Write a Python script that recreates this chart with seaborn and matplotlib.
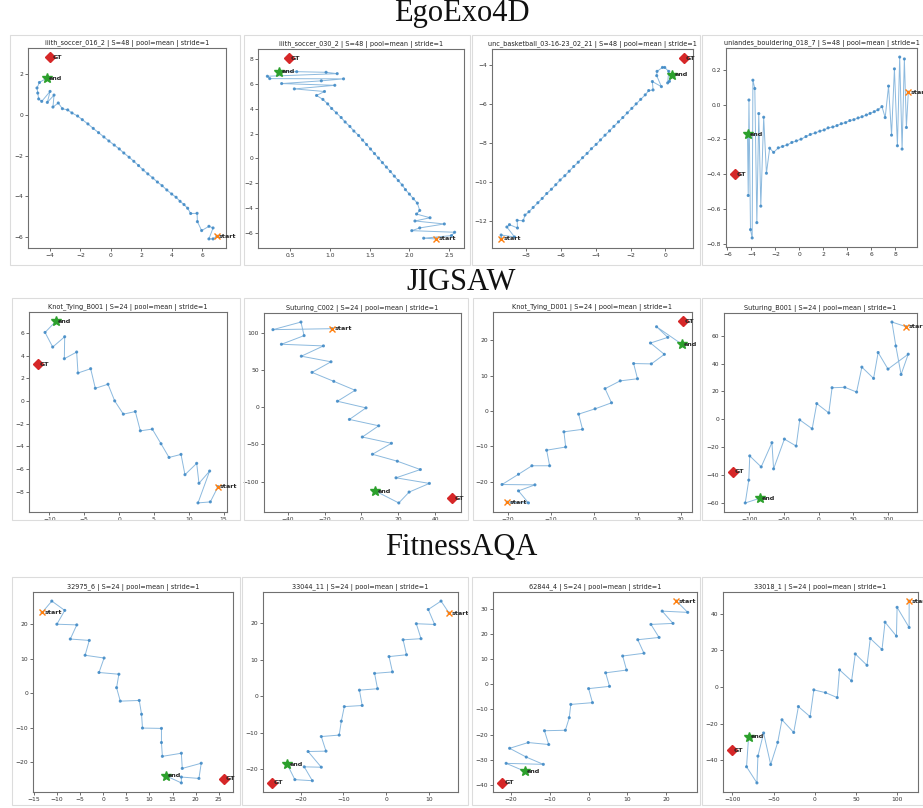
import numpy as np
import matplotlib.pyplot as plt
import seaborn as sns
from matplotlib.patches import Rectangle

sns.set_style("white")
plt.rcParams["font.family"] = ["DejaVu Sans"]

# ---- data -------------------------------------------------------------
sections = ["EgoExo4D", "JIGSAW", "FitnessAQA"]

titles = [
    "iiith_soccer_016_2 | S=48 | pool=mean | stride=1",
    "iiith_soccer_030_2 | S=48 | pool=mean | stride=1",
    "unc_basketball_03-16-23_02_21 | S=48 | pool=mean | stride=1",
    "uniandes_bouldering_018_7 | S=48 | pool=mean | stride=1",
    "Knot_Tying_B001 | S=24 | pool=mean | stride=1",
    "Suturing_C002 | S=24 | pool=mean | stride=1",
    "Knot_Tying_D001 | S=24 | pool=mean | stride=1",
    "Suturing_B001 | S=24 | pool=mean | stride=1",
    "32975_6 | S=24 | pool=mean | stride=1",
    "33044_11 | S=24 | pool=mean | stride=1",
    "62844_4 | S=24 | pool=mean | stride=1",
    "33018_1 | S=24 | pool=mean | stride=1",
]

ego1_x = [6.98, 6.72, 6.45, 6.72, 6.45, 5.97, 5.69, 5.67, 5.25, 5.05,
          4.81, 4.55, 4.29, 4.00, 3.68, 3.37, 3.06, 2.76, 2.43, 2.12,
          1.82, 1.51, 1.20, 0.85, 0.55, 0.22, -0.13, -0.46, -0.81, -1.16,
          -1.51, -1.88, -2.19, -2.56, -2.84, -3.19,
          -3.46, -3.81, -3.74, -4.18, -4.00, -4.55, -4.75, -4.81, -4.86, -4.70, -4.22]
ego1_y = [-5.97, -6.10, -6.10, -5.56, -5.48, -5.69, -5.25, -4.84, -4.85, -4.59,
          -4.41, -4.25, -4.05, -3.89, -3.69, -3.48, -3.30, -3.10, -2.90, -2.70,
          -2.49, -2.28, -2.08, -1.87, -1.67, -1.48, -1.28, -1.08, -0.87, -0.66,
          -0.44, -0.23, -0.05, 0.10, 0.25, 0.31,
          0.59, 0.39, 0.98, 0.62, 1.16, 0.67, 0.79, 1.08, 1.33, 1.60, 1.82]
ego1_gt = (-4.00, 2.85)

ego2_x = [2.34, 2.18, 2.53, 2.57, 2.03, 2.13, 2.44, 2.07, 2.26, 2.09, 2.13,
          2.10, 2.05, 2.00, 1.95, 1.91, 1.86, 1.81, 1.76, 1.71, 1.66, 1.61, 1.56,
          1.51, 1.46, 1.41, 1.36, 1.30, 1.25, 1.19, 1.14, 1.08, 1.02, 0.97, 0.91,
          0.83, 0.93, 0.55, 1.06, 0.39, 0.89, 1.17, 0.24, 0.21, 1.09, 0.95, 0.58, 0.36]
ego2_y = [-6.50, -6.44, -6.23, -5.96, -5.83, -5.61, -5.29, -5.05, -4.79, -4.49, -4.20,
          -3.61, -3.25, -2.88, -2.52, -2.15, -1.79, -1.43, -1.06, -0.70, -0.34, 0.03, 0.39,
          0.76, 1.12, 1.48, 1.85, 2.21, 2.58, 2.94, 3.30, 3.67, 4.03, 4.40, 4.76,
          5.08, 5.40, 5.61, 5.90, 6.04, 6.26, 6.42, 6.44, 6.63, 6.84, 6.95, 7.00, 7.00]
ego2_gt = (0.48, 8.10)

ego3_x = [-9.44, -9.44, -8.67, -9.11, -8.96, -8.50, -8.52, -8.17, -8.07,
          -7.84, -7.60, -7.33, -7.08, -6.82, -6.55, -6.30, -6.05, -5.78, -5.53,
          -5.27, -5.01, -4.76, -4.50, -4.25, -3.98, -3.73, -3.47, -3.21, -2.96,
          -2.70, -2.45, -2.19, -1.93, -1.68, -1.42, -1.16,
          -0.96, -0.71, -0.75, -0.23, -0.50, -0.48, -0.17, -0.04, 0.19, 0.13, 0.23, 0.39]
ego3_y = [-12.90, -12.70, -12.80, -12.29, -12.17, -12.34, -11.95, -11.97, -11.68,
          -11.51, -11.29, -11.05, -10.83, -10.58, -10.36, -10.13, -9.89, -9.67, -9.44,
          -9.20, -8.98, -8.75, -8.53, -8.29, -8.07, -7.84, -7.60, -7.38, -7.15,
          -6.92, -6.70, -6.46, -6.23, -6.00, -5.77, -5.54,
          -5.32, -5.29, -4.86, -5.12, -4.56, -4.34, -4.14, -4.14, -4.34, -4.93, -4.85, -4.51]
ego3_gt = (1.06, -3.66)

ego4_x = [9.09, 8.93, 8.76, 8.57, 8.37, 8.18, 7.93, 7.69, 7.44, 7.16, 6.89,
          6.56, 6.25, 5.90, 5.59, 5.23, 4.90, 4.55, 4.21, 3.86, 3.50, 3.14, 2.79,
          2.40, 2.07, 1.71, 1.33, 0.91, 0.55, 0.14, -0.25, -0.63, -1.02, -1.40, -1.76,
          -2.15, -2.48,
          -2.75, -2.98, -3.22, -3.39, -3.55, -3.72, -3.88, -3.94, -4.08, -4.21, -4.27, -4.33]
ego4_y = [0.072, -0.131, 0.263, -0.255, 0.274, -0.236, 0.206, -0.175, 0.107, -0.074, -0.011,
          -0.029, -0.040, -0.050, -0.059, -0.069, -0.076, -0.086, -0.091, -0.103, -0.109,
          -0.120, -0.128, -0.133, -0.145, -0.152, -0.162, -0.171, -0.183, -0.198, -0.208,
          -0.217, -0.231, -0.240, -0.248,
          -0.274, -0.250,
          -0.394, -0.072, -0.583, -0.051, -0.678, 0.093, 0.141, -0.766, -0.718, 0.027, -0.522, -0.171]
ego4_gt = (-5.40, -0.40)

jig1_x = [14.21, 13.11, 11.34, 13.01, 11.48, 11.15, 9.47, 8.90, 7.18, 6.03, 4.78, 3.06, 2.34,
          0.62, -0.62, -1.58, -3.40, -4.07, -5.89, -6.08, -7.85, -7.80, -9.52, -10.62, -9.04]
jig1_y = [-7.57, -8.91, -9.00, -6.19, -7.27, -5.51, -6.51, -4.72, -4.99, -3.78, -2.49, -2.64, -0.94,
          -1.17, 0.00, 1.47, 1.11, 2.84, 2.46, 4.31, 3.72, 5.66, 4.75, 6.04, 7.04]
jig1_gt = (-11.63, 3.23)

jig2_x = [-15.9, -48.0, -32.8, -31.1, -43.4, -20.6, -32.6, -16.5, -26.8, -15.0, -3.4, -13.0, 2.5,
          -6.5, 9.4, 0.5, 16.3, 6.0, 19.5, 32.0, 18.8, 36.9, 25.9, 20.3, 7.6]
jig2_y = [105.3, 104.0, 114.2, 96.0, 84.4, 82.2, 68.4, 60.9, 46.7, 34.7, 22.7, 8.0, -0.9,
          -16.4, -24.9, -40.0, -48.4, -63.1, -72.4, -83.6, -94.7, -102.2, -113.8, -128.4, -112.4]
jig2_gt = (49.2, -122.0)

jig3_x = [-20.1, -15.2, -17.5, -13.7, -21.3, -17.5, -14.4, -10.3, -11.0, -6.6, -7.0, -2.7, -3.6,
          0.2, 4.0, 2.5, 6.0, 10.0, 9.1, 13.2, 16.2, 13.0, 17.0, 14.4, 20.2]
jig3_y = [-25.8, -26.0, -22.6, -20.9, -20.8, -17.9, -15.5, -15.5, -11.1, -10.2, -5.9, -5.2, -0.9,
          0.6, 2.3, 6.3, 8.5, 9.1, 13.4, 13.3, 16.0, 19.2, 20.8, 23.8, 18.9]
jig3_gt = (20.5, 25.4)

jig4_x = [126.4, 105.7, 111.3, 118.9, 129.2, 100.0, 85.8, 79.2, 62.3, 54.7, 37.7, 19.3, 14.6,
          -2.8, -9.4, -27.4, -32.5, -49.5, -65.1, -67.5, -83.0, -99.5, -100.9, -106.0, -85.4]
jig4_y = [66.4, 69.8, 52.6, 32.1, 46.7, 36.0, 47.9, 29.3, 37.4, 19.5, 22.9, 22.6, 4.5,
          11.2, -6.9, -0.5, -19.3, -14.3, -35.7, -16.9, -34.3, -26.4, -43.8, -60.2, -56.9]
jig4_gt = (-124.0, -37.6)

fit1_x = [-13.2, -11.1, -8.3, -10.0, -5.7, -7.1, -3.0, -3.9, 0.2, -0.9, 3.4, 2.9, 3.7,
          7.8, 8.3, 8.5, 12.6, 12.6, 12.8, 16.9, 17.1, 21.2, 20.7, 16.9, 16.9, 13.5]
fit1_y = [23.4, 26.7, 24.0, 20.0, 19.8, 15.7, 15.3, 11.0, 10.2, 6.0, 5.5, 1.6, -2.3,
          -2.1, -6.1, -10.1, -10.2, -14.3, -18.3, -17.4, -21.8, -20.3, -24.7, -24.3, -26.0, -23.9]
fit1_gt = (26.1, -24.8)

fit2_x = [14.8, 12.9, 9.9, 11.4, 7.1, 8.2, 4.0, 4.8, 0.7, 1.5, -2.7, -2.0, -6.25,
          -5.6, -9.8, -10.5, -11.0, -15.2, -14.1, -18.3, -15.2, -19.2, -17.3, -21.4, -23.2]
fit2_y = [22.8, 26.1, 23.8, 19.7, 19.9, 15.8, 15.5, 11.4, 10.9, 6.7, 6.3, 2.1, 1.7,
          -2.5, -2.8, -6.8, -10.6, -11.0, -15.0, -15.1, -19.4, -19.3, -23.1, -22.8, -18.6]
fit2_gt = (-26.8, -23.7)

fit3_x = [22.7, 25.6, 19.0, 21.8, 16.1, 18.2, 12.7, 14.3, 8.8, 9.8, 4.4, 5.4, 0.0,
          1.0, -4.6, -5.0, -6.0, -11.4, -10.3, -15.6, -20.4, -16.1, -11.7, -21.3, -16.4]
fit3_y = [33.2, 28.7, 29.2, 24.3, 23.9, 18.7, 17.8, 12.4, 11.3, 5.7, 4.6, -0.8, -1.7,
          -7.3, -8.0, -13.3, -18.3, -18.5, -24.0, -23.2, -25.5, -29.0, -31.9, -31.5, -34.7]
fit3_gt = (-22.3, -39.3)

fit4_x = [114.4, 114.4, 99.8, 99.0, 85.2, 81.5, 67.3, 63.3, 49.1, 44.6, 30.0, 27.2, 13.0,
          -1.2, -5.7, -19.9, -25.6, -39.8, -45.0, -53.5, -62.1, -69.0, -70.2, -82.8, -80.3]
fit4_y = [46.8, 32.4, 43.4, 27.7, 35.3, 20.4, 26.4, 11.8, 18.0, 3.3, 9.3, -5.8, -3.1,
          -1.6, -16.2, -10.7, -24.8, -17.9, -30.2, -42.3, -25.1, -37.7, -52.3, -43.5, -27.1]
fit4_gt = (-100.6, -34.4)

all_x = [ego1_x, ego2_x, ego3_x, ego4_x, jig1_x, jig2_x, jig3_x, jig4_x,
         fit1_x, fit2_x, fit3_x, fit4_x]
all_y = [ego1_y, ego2_y, ego3_y, ego4_y, jig1_y, jig2_y, jig3_y, jig4_y,
         fit1_y, fit2_y, fit3_y, fit4_y]
all_gt = [ego1_gt, ego2_gt, ego3_gt, ego4_gt, jig1_gt, jig2_gt, jig3_gt, jig4_gt,
          fit1_gt, fit2_gt, fit3_gt, fit4_gt]

# ---- layout (pixels: left, top, right, bottom) -----------------------
W, H = 923, 808
axes_px = [
    (28, 48, 226, 248), (258, 49, 464, 248), (492, 49, 693, 248), (726, 48, 917, 247),
    (29, 312, 227, 512), (264, 313, 461, 512), (493, 312, 692, 512), (724, 313, 917, 512),
    (33, 592, 233, 792), (263, 592, 458, 792), (493, 592, 697, 792), (723, 592, 918, 792),
]
frames_px = [
    (10, 35, 240, 265), (244, 35, 470, 265), (472, 35, 700, 265), (702, 35, 923, 265),
    (12, 298, 240, 520), (244, 298, 468, 520), (473, 298, 700, 520), (702, 298, 923, 520),
    (12, 577, 240, 805), (242, 577, 468, 805), (472, 577, 700, 805), (702, 577, 923, 805),
]
section_y = [14, 283, 548]

fig = plt.figure(figsize=(W / 100, H / 100), dpi=100)


def px_rect(l, t, r, b):
    return [l / W, 1 - b / H, (r - l) / W, (b - t) / H]


for (l, t, r, b) in frames_px:
    x0, y0, w, h = px_rect(l, t, r, b)
    fig.add_artist(Rectangle((x0, y0), w, h, transform=fig.transFigure,
                             fill=False, ec="#dcdcdc", lw=0.8))

for i in range(12):
    ax = fig.add_axes(px_rect(*axes_px[i]))
    xs, ys, gt = all_x[i], all_y[i], all_gt[i]
    sns.lineplot(x=xs, y=ys, sort=False, estimator=None, ax=ax,
                 color="#6fa8d6", lw=0.7, alpha=0.8, zorder=2)
    sns.scatterplot(x=xs, y=ys, ax=ax, color="#3a86c4", s=5, alpha=0.85,
                    edgecolor="none", zorder=3)
    ax.plot(xs[0], ys[0], "x", color="#ff7f0e", ms=4.5, mew=1.0, zorder=5)
    ax.plot(xs[-1], ys[-1], "*", color="#2ca02c", ms=7, zorder=5)
    ax.plot(gt[0], gt[1], "D", color="#d62728", ms=5.5, zorder=5)
    for (px, py, lab) in [(xs[0], ys[0], "start"), (xs[-1], ys[-1], "end"), (gt[0], gt[1], "GT")]:
        ax.annotate(lab, (px, py), xytext=(1.5, 0), textcoords="offset points",
                    fontsize=4.6, fontweight="bold", va="center", ha="left",
                    annotation_clip=False, zorder=6)
    ax.set_title(titles[i], fontsize=4.7, pad=2.5, color="#222222")
    ax.tick_params(bottom=True, left=True, labelsize=4.3, length=2, width=0.5,
                   colors="#333333", pad=1.5)
    for s in ax.spines.values():
        s.set_color("#707070")
        s.set_linewidth(0.8)

for name, yy in zip(sections, section_y):
    fig.text(0.5, 1 - yy / H, name, ha="center", va="center", fontsize=22,
             family="Liberation Serif", color="#111111")

fig.savefig("out.png", dpi=100)
